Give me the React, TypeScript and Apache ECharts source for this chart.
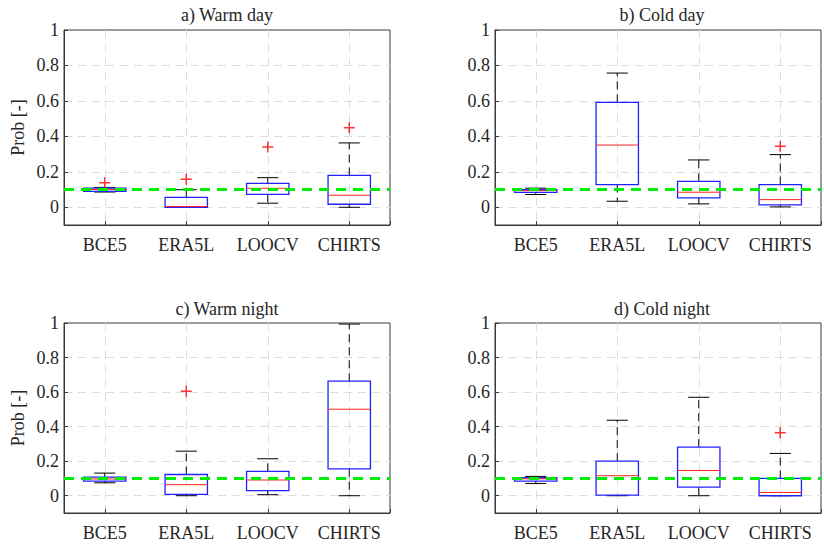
import React, { useEffect, useRef } from 'react';
import * as echarts from 'echarts';

const categories = ['BCE5', 'ERA5L', 'LOOCV', 'CHIRTS'];
const panelTitles = ['a) Warm day', 'b) Cold day', 'c) Warm night', 'd) Cold night'];
const yAxisName = 'Prob [-]';
const referenceProb = 0.1;
const yMin = -0.1;
const yMax = 1;

// Each row: [min, Q1, median, Q3, max] for BCE5, ERA5L, LOOCV, CHIRTS
const warmDayBoxes = [
  [0.086, 0.09, 0.1, 0.108, 0.112],
  [0.0, 0.0, 0.004, 0.056, 0.099],
  [0.023, 0.073, 0.107, 0.135, 0.167],
  [0.0, 0.017, 0.068, 0.18, 0.363],
];
const warmDayOutliers = [[0, 0.139], [1, 0.158], [2, 0.34], [3, 0.449]];

const coldDayBoxes = [
  [0.072, 0.084, 0.094, 0.1, 0.108],
  [0.034, 0.128, 0.351, 0.592, 0.757],
  [0.019, 0.053, 0.085, 0.146, 0.267],
  [0.002, 0.013, 0.043, 0.128, 0.297],
];
const coldDayOutliers = [[3, 0.344]];

const warmNightBoxes = [
  [0.075, 0.085, 0.097, 0.108, 0.131],
  [0.0, 0.008, 0.064, 0.123, 0.258],
  [0.006, 0.029, 0.091, 0.141, 0.214],
  [0.0, 0.156, 0.501, 0.663, 0.994],
];
const warmNightOutliers = [[1, 0.605]];

const coldNightBoxes = [
  [0.071, 0.085, 0.098, 0.104, 0.112],
  [0.0, 0.004, 0.116, 0.2, 0.437],
  [0.0, 0.05, 0.146, 0.281, 0.57],
  [0.0, 0.0, 0.019, 0.1, 0.245],
];
const coldNightOutliers = [[3, 0.364]];

const panelBoxes = [warmDayBoxes, coldDayBoxes, warmNightBoxes, coldNightBoxes];
const panelOutliers = [warmDayOutliers, coldDayOutliers, warmNightOutliers, coldNightOutliers];

const FONT = "'Liberation Serif', 'Times New Roman', serif";
const TEXT = '#262626';
const AXIS = '#3a3a3a';
const GRIDC = '#dddddd';

const gridPos = [
  { left: 64, top: 30, width: 326, height: 195 },
  { left: 495, top: 30, width: 333, height: 195 },
  { left: 64, top: 323, width: 326, height: 190 },
  { left: 495, top: 323, width: 333, height: 190 },
];
const titlePos = [
  { left: 222, top: 1 },
  { left: 657, top: 1 },
  { left: 222, top: 295 },
  { left: 657, top: 295 },
];

function renderBox(params: any, api: any) {
  const x = api.value(0);
  const pMin = api.coord([x, api.value(1)]);
  const pQ1 = api.coord([x, api.value(2)]);
  const pMed = api.coord([x, api.value(3)]);
  const pQ3 = api.coord([x, api.value(4)]);
  const pMax = api.coord([x, api.value(5)]);
  const band = api.size([1, 0])[0];
  const bw = band * 0.52;
  const cw = bw * 0.5;
  const cx = pMed[0];
  const whisker = { stroke: '#000', lineWidth: 1, lineDash: [8, 5] };
  const cap = { stroke: '#000', lineWidth: 1 };
  return {
    type: 'group',
    children: [
      { type: 'line', shape: { x1: cx, y1: pQ3[1], x2: cx, y2: pMax[1] }, style: whisker },
      { type: 'line', shape: { x1: cx, y1: pQ1[1], x2: cx, y2: pMin[1] }, style: whisker },
      { type: 'line', shape: { x1: cx - cw / 2, y1: pMax[1], x2: cx + cw / 2, y2: pMax[1] }, style: cap },
      { type: 'line', shape: { x1: cx - cw / 2, y1: pMin[1], x2: cx + cw / 2, y2: pMin[1] }, style: cap },
      {
        type: 'rect',
        shape: { x: cx - bw / 2, y: pQ3[1], width: bw, height: pQ1[1] - pQ3[1] },
        style: { fill: 'none', stroke: '#2222ff', lineWidth: 1.3 },
      },
      {
        type: 'line',
        shape: { x1: cx - bw / 2, y1: pMed[1], x2: cx + bw / 2, y2: pMed[1] },
        style: { stroke: '#ff2020', lineWidth: 1 },
      },
    ],
  };
}

export default function App() {
  const ref = useRef<HTMLDivElement>(null);
  useEffect(() => {
    document.body.style.margin = '0';
    const chart = echarts.init(ref.current!, null, { renderer: 'svg' });
    const grid: any[] = [];
    const xAxis: any[] = [];
    const yAxis: any[] = [];
    const title: any[] = [];
    const series: any[] = [];
    for (let i = 0; i < 4; i++) {
      grid.push({ ...gridPos[i], show: true, borderColor: AXIS, borderWidth: 1, backgroundColor: '#fff' });
      title.push({
        text: panelTitles[i],
        ...titlePos[i],
        textAlign: 'center',
        textStyle: { fontFamily: FONT, fontSize: 18, fontWeight: 'normal', color: TEXT },
      });
      xAxis.push({
        type: 'value',
        gridIndex: i,
        min: -0.5,
        max: categories.length - 0.5,
        minInterval: 1,
        maxInterval: 1,
        axisLine: { show: true, onZero: false, lineStyle: { color: AXIS, width: 1 } },
        axisTick: { show: true, inside: true, length: 4, lineStyle: { color: AXIS } },
        axisLabel: {
          margin: 11,
          fontFamily: FONT,
          fontSize: 18,
          color: TEXT,
          formatter: (v: number) => (Number.isInteger(v) && v >= 0 && v < categories.length ? categories[v] : ''),
        },
        splitLine: { show: true, showMinLine: false, showMaxLine: false, lineStyle: { color: GRIDC, type: [8, 6], width: 1 } },
      });
      yAxis.push({
        type: 'value',
        gridIndex: i,
        min: yMin,
        max: yMax,
        minInterval: 0.2,
        maxInterval: 0.2,
        name: i % 2 === 0 ? yAxisName : '',
        nameLocation: 'middle',
        nameGap: 37,
        nameRotate: 90,
        nameTextStyle: { fontFamily: FONT, fontSize: 18, color: TEXT },
        axisLine: { show: true, onZero: false, lineStyle: { color: AXIS, width: 1 } },
        axisTick: { show: true, inside: true, length: 4, lineStyle: { color: AXIS } },
        axisLabel: {
          margin: 5,
          fontFamily: FONT,
          fontSize: 18,
          color: TEXT,
          formatter: (v: number) => {
            if (v < -0.05) return '';
            const r = Math.round(v * 10) / 10;
            return r === 0 ? '0' : r === 1 ? '1' : r.toFixed(1);
          },
        },
        splitLine: { show: true, showMinLine: false, showMaxLine: false, lineStyle: { color: GRIDC, type: [8, 6], width: 1 } },
      });
      series.push({
        type: 'custom',
        xAxisIndex: i,
        yAxisIndex: i,
        renderItem: renderBox,
        encode: { x: 0, y: [1, 2, 3, 4, 5] },
        data: panelBoxes[i].map((b, k) => [k, ...b]),
        z: 2,
      });
      series.push({
        type: 'scatter',
        xAxisIndex: i,
        yAxisIndex: i,
        symbol: 'path://M5,0 L5,10 M0,5 L10,5',
        symbolSize: 11,
        itemStyle: { color: 'transparent', borderColor: '#ff0000', borderWidth: 1.5 },
        data: panelOutliers[i],
        z: 3,
        markLine: {
          silent: true,
          symbol: 'none',
          label: { show: false },
          lineStyle: { color: '#00ee00', width: 3, type: [10, 7] },
          data: [{ yAxis: referenceProb }],
          z: 4,
        },
      });
    }
    chart.setOption({ animation: false, backgroundColor: '#fff', grid, xAxis, yAxis, title, series });
    return () => chart.dispose();
  }, []);
  return <div ref={ref} style={{ position: 'fixed', left: 0, top: 0, width: 824, height: 544 }} />;
}
